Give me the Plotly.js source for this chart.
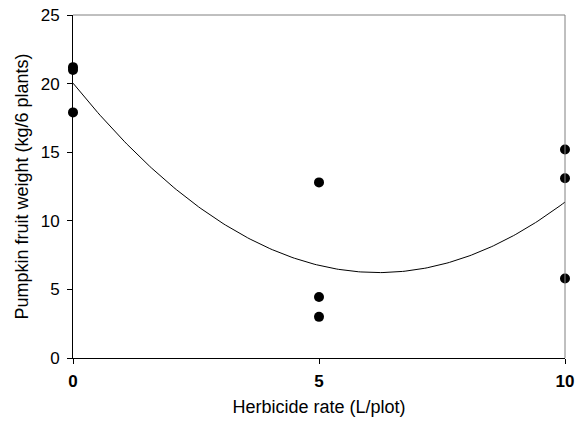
<!DOCTYPE html>
<html>
<head>
<meta charset="utf-8">
<script src="https://cdn.plot.ly/plotly-3.0.1.min.js"></script>
<style>html,body{margin:0;padding:0;background:#fff;}#chart{width:575px;height:423px;}</style>
</head>
<body>
<div id="chart"></div>
<script>
const herbicideRate = [0, 0, 0, 5, 5, 5, 10, 10, 10];
const fruitWeight = [21.2, 21.0, 17.9, 12.8, 4.45, 3.0, 15.2, 13.1, 5.8];
const xTicks = [0, 5, 10];
const yTicks = [0, 5, 10, 15, 20, 25];

// Least-squares quadratic fit computed from the observed data
function quadFit(xs, ys) {
  let S = [0,0,0,0,0], T = [0,0,0];
  for (let i = 0; i < xs.length; i++) {
    let p = 1;
    for (let k = 0; k < 5; k++) { S[k] += p; if (k < 3) T[k] += p * ys[i]; p *= xs[i]; }
  }
  const A = [[S[0],S[1],S[2],T[0]],[S[1],S[2],S[3],T[1]],[S[2],S[3],S[4],T[2]]];
  for (let c = 0; c < 3; c++) {
    for (let r = c + 1; r < 3; r++) {
      const f = A[r][c] / A[c][c];
      for (let k = c; k < 4; k++) A[r][k] -= f * A[c][k];
    }
  }
  const b = [0,0,0];
  for (let r = 2; r >= 0; r--) {
    let s = A[r][3];
    for (let k = r + 1; k < 3; k++) s -= A[r][k] * b[k];
    b[r] = s / A[r][r];
  }
  return b;
}
const coef = quadFit(herbicideRate, fruitWeight);
const fitX = [], fitY = [];
for (let i = 0; i <= 200; i++) {
  const x = i * 10 / 200;
  fitX.push(x);
  fitY.push(coef[0] + coef[1] * x + coef[2] * x * x);
}

const fam = 'Liberation Sans, Arial, sans-serif';
const tickFont = {family: fam, size: 17, color: '#000'};
const titleFont = {family: fam, size: 18, color: '#000'};

const traces = [
  {x: fitX, y: fitY, mode: 'lines', line: {color: '#000', width: 1}, hoverinfo: 'skip', cliponaxis: false},
  {x: herbicideRate, y: fruitWeight, mode: 'markers', marker: {color: '#000', size: 10}, cliponaxis: false}
];

const layout = {
  width: 575, height: 423,
  margin: {l: 73, r: 10, t: 15, b: 65},
  paper_bgcolor: '#fff', plot_bgcolor: '#fff',
  showlegend: false,
  font: tickFont,
  xaxis: {
    range: [0, 10], tickvals: xTicks, ticktext: xTicks.map(v => '<b>' + v + '</b>'),
    ticks: 'outside', ticklen: 5, tickwidth: 1, tickcolor: '#000', ticklabelstandoff: 3,
    showline: true, linecolor: '#000', linewidth: 1, showgrid: false, zeroline: false,
    tickfont: tickFont,
    title: {text: 'Herbicide rate (L/plot)', font: titleFont, standoff: 9}
  },
  yaxis: {
    range: [0, 25], tickvals: yTicks,
    ticks: 'outside', ticklen: 5, tickwidth: 1, tickcolor: '#000', ticklabelstandoff: 4,
    showline: true, linecolor: '#000', linewidth: 1, showgrid: false, zeroline: false,
    tickfont: tickFont,
    title: {text: 'Pumpkin fruit weight (kg/6 plants)', font: titleFont, standoff: 7}
  },
  shapes: [
    {type: 'line', xref: 'paper', yref: 'paper', x0: 0, x1: 1, y0: 1, y1: 1, line: {color: '#808080', width: 1}},
    {type: 'line', xref: 'paper', yref: 'paper', x0: 1, x1: 1, y0: 0, y1: 1, line: {color: '#808080', width: 1}}
  ]
};

Plotly.newPlot('chart', traces, layout, {displayModeBar: false, staticPlot: true});
</script>
</body>
</html>
